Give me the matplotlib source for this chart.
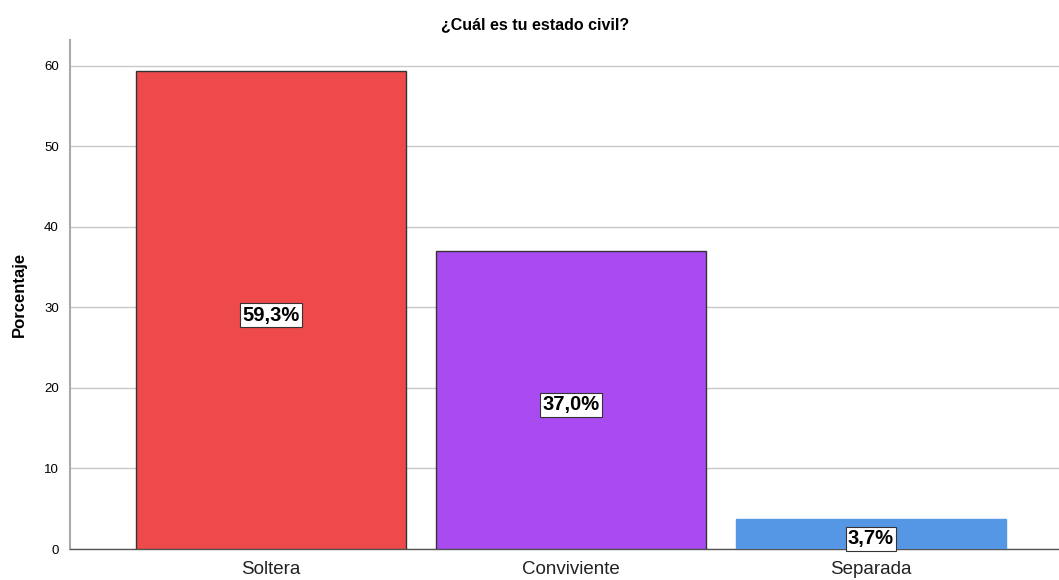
import matplotlib
matplotlib.use("Agg")
import matplotlib.pyplot as plt

categories = ["Soltera", "Conviviente", "Separada"]
percentages = [59.3, 37.0, 3.7]
labels = ["59,3%", "37,0%", "3,7%"]
colors = ["#EE4A4B", "#A94BF1", "#5697E5"]
edges = ["#333333", "#333333", "#5697E5"]

plt.rcParams["font.family"] = ["Arial", "Liberation Sans", "DejaVu Sans"]

fig = plt.figure(figsize=(10.59, 5.8), dpi=100)
ax = fig.add_axes([70 / 1059, 1 - 549 / 580, 989 / 1059, 509 / 580])

x = list(range(len(categories)))
bars = ax.bar(x, percentages, width=0.9, color=colors, edgecolor=edges, linewidth=1.0, zorder=3)

for xi, val, lab in zip(x, percentages, labels):
    ax.text(xi, val / 2 - 0.6, lab, ha="center", va="center", fontsize=14.5, fontweight="bold",
            bbox=dict(boxstyle="square,pad=0.12", facecolor="white", edgecolor="#333333", linewidth=0.8),
            zorder=4)

ax.set_xlim(-0.67, 2.627)
ax.set_ylim(0, 63.2)
ax.set_yticks([0, 10, 20, 30, 40, 50, 60])
ax.set_xticks(x)
ax.set_xticklabels(categories, fontsize=13.5, color="#222222")
ax.tick_params(axis="y", labelsize=9.5, length=0, pad=8)
ax.tick_params(axis="x", length=0, pad=9)
ax.yaxis.grid(True, color="#C8C8C8", linewidth=1.0, zorder=0)

for s in ["top", "right"]:
    ax.spines[s].set_visible(False)
ax.spines["left"].set_color("#AAAAAA")
ax.spines["left"].set_linewidth(1.5)
ax.spines["bottom"].set_color("#555555")
ax.spines["bottom"].set_linewidth(1.0)

ax.set_ylabel("Porcentaje", fontsize=12, fontweight="bold", labelpad=12)
fig.text(535 / 1059, 1 - 25 / 580, "¿Cuál es tu estado civil?", ha="center", va="center",
         fontsize=11.5, fontweight="bold")

fig.savefig("out.png", dpi=100)
